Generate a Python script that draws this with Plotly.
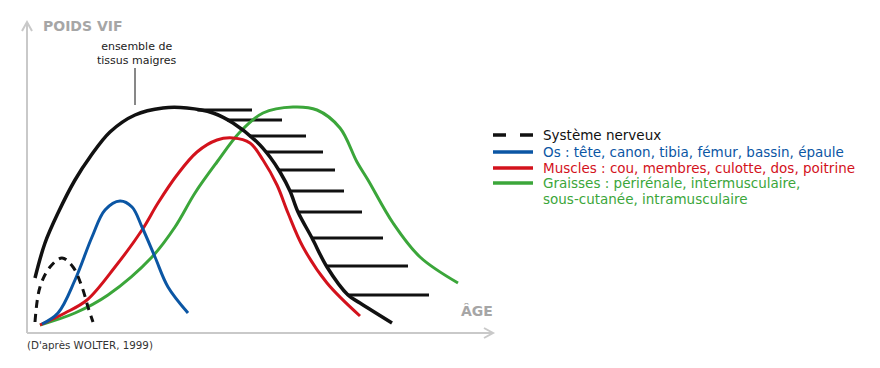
import numpy as np
import plotly.graph_objects as go

# ---- data (age units, weight units) ----
lean_age = [8, 18, 31, 48, 63, 83, 108, 136, 160, 186, 206, 230, 243, 253, 263, 271, 285, 300, 321, 333, 365]
lean_w = [55, 90, 120, 153, 176, 201, 218, 225, 225, 220, 210, 191, 176, 161, 142, 121, 95, 66, 38, 30, 10]

muscle_age = [13, 38, 60, 88, 115, 131, 150, 170, 190, 206, 223, 236, 250, 261, 276, 300, 333]
muscle_w = [8, 20, 33, 66, 103, 130, 158, 181, 193, 195, 190, 173, 148, 120, 86, 50, 17]

fat_age = [13, 48, 81, 125, 148, 168, 190, 213, 236, 266, 290, 313, 330, 341, 366, 393, 431]
fat_w = [8, 20, 38, 76, 106, 140, 171, 201, 220, 226, 223, 205, 171, 153, 110, 76, 50]

bone_age = [15, 31, 48, 65, 78, 93, 105, 115, 128, 141, 161]
bone_w = [9, 20, 53, 96, 123, 132, 126, 106, 76, 46, 20]

nerve_age = [8, 13, 23, 35, 46, 55, 61, 66]
nerve_w = [11, 46, 66, 75, 66, 46, 26, 11]

hatch_w = [223, 213, 197, 181, 163, 142, 121, 95, 67, 38]
hatch_end = [225, 255, 279, 296, 308, 317, 335, 356, 381, 402]

legend_labels = [
    "Système nerveux",
    "Os : tête, canon, tibia, fémur, bassin, épaule",
    "Muscles : cou, membres, culotte, dos, poitrine",
    "Graisses : périrénale, intermusculaire,",
    "sous-cutanée, intramusculaire",
]

BLACK = "#111111"
BLUE = "#0b56a4"
RED = "#d3121c"
GREEN = "#3ba63a"
AXIS = "#c9c9c9"
FONT = "DejaVu Sans"

X0, X1 = -27, 853
Y0, Y1 = -35, 333

fig = go.Figure()

# hatch lines from lean curve (descending part) to the right
peak = int(np.argmax(lean_w))
desc_age = np.array(lean_age[peak:], dtype=float)
desc_w = np.array(lean_w[peak:], dtype=float)
hx, hy = [], []
for w, e in zip(hatch_w, hatch_end):
    s = float(np.interp(w, desc_w[::-1], desc_age[::-1]))
    hx += [s, e, None]
    hy += [w, w, None]
fig.add_trace(go.Scatter(x=hx, y=hy, mode="lines", line=dict(color=BLACK, width=3), hoverinfo="skip"))

def curve(xs, ys, color, width=3, dash=None):
    fig.add_trace(go.Scatter(
        x=xs, y=ys, mode="lines",
        line=dict(color=color, width=width, shape="spline", smoothing=1.0, dash=dash),
        hoverinfo="skip"))

curve(fat_age, fat_w, GREEN)
curve(lean_age, lean_w, BLACK, 3.5)
curve(muscle_age, muscle_w, RED)
curve(bone_age, bone_w, BLUE)
curve(nerve_age, nerve_w, BLACK, 3, dash="8px,6px")

# axes with arrows
ax_top = 311
ax_right = 466
shapes = [
    dict(type="line", xref="x", yref="y", x0=0, y0=0, x1=0, y1=ax_top, line=dict(color=AXIS, width=2)),
    dict(type="line", xref="x", yref="y", x0=0, y0=0, x1=ax_right, y1=0, line=dict(color=AXIS, width=2)),
    dict(type="path", xref="x", yref="y",
         path=f"M -5,{ax_top-9} L 0,{ax_top} L 5,{ax_top-9}", line=dict(color=AXIS, width=2)),
    dict(type="path", xref="x", yref="y",
         path=f"M {ax_right-9},5 L {ax_right},0 L {ax_right-9},-5", line=dict(color=AXIS, width=2)),
    # annotation pointer
    dict(type="line", xref="x", yref="y", x0=108, y0=265, x1=108, y1=228, line=dict(color=BLACK, width=1)),
]

# legend samples
colors = [BLACK, BLUE, RED, GREEN]
rows_y = [135, 152, 168, 183, 199]
for i, c in enumerate(colors):
    yy = 1 - rows_y[i] / 368
    if i == 0:
        shapes.append(dict(type="line", xref="paper", yref="paper", x0=493/880, x1=506/880, y0=yy, y1=yy, line=dict(color=c, width=3.5)))
        shapes.append(dict(type="line", xref="paper", yref="paper", x0=520/880, x1=533/880, y0=yy, y1=yy, line=dict(color=c, width=3.5)))
    else:
        shapes.append(dict(type="line", xref="paper", yref="paper", x0=493/880, x1=533/880, y0=yy, y1=yy, line=dict(color=c, width=3.5)))

annotations = []
text_colors = [BLACK, BLUE, RED, GREEN, GREEN]
for lab, yy, tc in zip(legend_labels, rows_y, text_colors):
    annotations.append(dict(xref="paper", yref="paper", x=541/880, y=1 - yy/368, text=lab, showarrow=False,
                            xanchor="left", yanchor="middle", font=dict(family=FONT, size=13.5, color=tc)))

annotations += [
    dict(xref="x", yref="y", x=14, y=307, text="<b>POIDS VIF</b>", showarrow=False, xanchor="left", yanchor="middle",
         font=dict(family=FONT, size=14, color="#a6a6a6")),
    dict(xref="x", yref="y", x=ax_right+2, y=22, text="<b>ÂGE</b>", showarrow=False, xanchor="right", yanchor="middle",
         font=dict(family=FONT, size=14, color="#a6a6a6")),
    dict(xref="x", yref="y", x=110, y=280, text="ensemble de<br>tissus maigres", showarrow=False, xanchor="center", yanchor="middle",
         font=dict(family=FONT, size=11, color="#222222")),
    dict(xref="x", yref="y", x=-2, y=-12, text="(D'après WOLTER, 1999)", showarrow=False, xanchor="left", yanchor="middle",
         font=dict(family=FONT, size=10.3, color="#333333")),
]

fig.update_layout(
    width=880, height=368,
    margin=dict(l=0, r=0, t=0, b=0),
    paper_bgcolor="white", plot_bgcolor="white",
    showlegend=False,
    xaxis=dict(range=[X0, X1], visible=False, fixedrange=True),
    yaxis=dict(range=[Y0, Y1], visible=False, fixedrange=True),
    shapes=shapes, annotations=annotations,
)

fig.write_html("out.html", config={"displayModeBar": False},
               post_script="document.body.style.margin='0';document.body.style.overflow='hidden';")
